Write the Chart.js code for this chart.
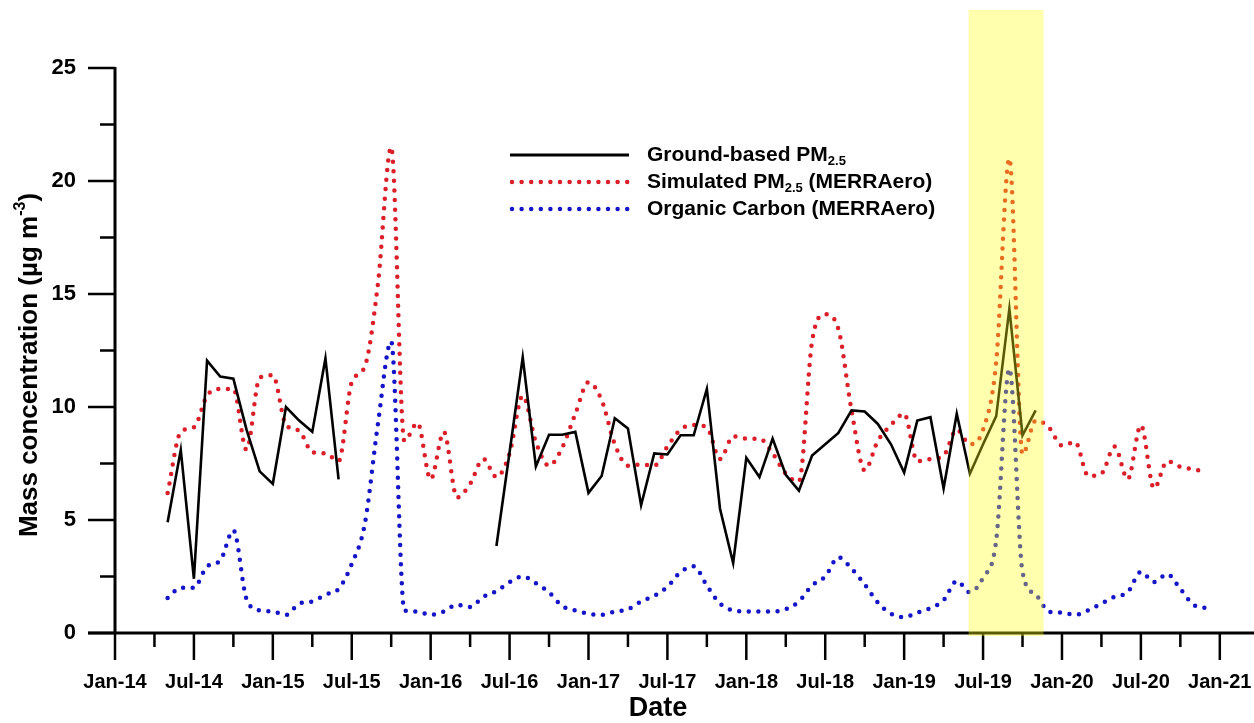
<!DOCTYPE html>
<html>
<head>
<meta charset="utf-8">
<script src="https://cdn.jsdelivr.net/npm/chart.js@4.4.1/dist/chart.umd.min.js"></script>
<style>
  html, body { margin: 0; padding: 0; background: #fff; }
  #chart { display: block; }
</style>
</head>
<body>
<canvas id="chart" width="1254" height="723"></canvas>
<script>
// --------- Datos ---------
// x = meses desde Jan-14; la primera muestra es May-14
const START_MONTH = 4;
const X_TICK_LABELS = ["Jan-14", "Jul-14", "Jan-15", "Jul-15", "Jan-16", "Jul-16", "Jan-17",
    "Jul-17", "Jan-18", "Jul-18", "Jan-19", "Jul-19", "Jan-20", "Jul-20", "Jan-21"];
const Y_TICKS = [0, 5, 10, 15, 20, 25];

// Ground-based PM2.5 (hueco entre Jul-15 y May-16)
const GROUND_PM25 = [
    4.9, 8.1, 2.4, 12.05, 11.35, 11.25, 9.0, 7.15, 6.6, 10.0, 9.4, 8.9, 12.15, 6.8,
    null, null, null, null, null, null, null, null, null, null, null,
    3.85, 8.0, 12.2, 7.37, 8.77, 8.77, 8.9, 6.2, 6.95, 9.5, 9.05, 5.65, 7.95, 7.9,
    8.75, 8.75, 10.8, 5.5, 3.1, 7.75, 6.9, 8.6, 7.0, 6.3, 7.85, 8.35, 8.85, 9.85,
    9.8, 9.25, 8.35, 7.1, 9.4, 9.55, 6.4, 9.7, 7.05, 8.35, 9.6, 14.35, 8.75, 9.85
];

// Simulated PM2.5 (MERRAero)
const SIM_PM25 = [
    6.2, 8.9, 9.1, 10.5, 10.8, 10.8, 8.1, 11.3, 11.4, 9.2, 8.95, 8.0, 7.95, 7.6,
    11.1, 11.8, 15.5, 21.5, 8.5, 9.3, 6.8, 8.9, 6.0, 6.6, 7.7, 6.9, 7.95, 10.5,
    8.45, 7.4, 8.2, 9.7, 11.1, 10.3, 8.35, 7.4, 7.45, 7.4, 8.25, 9.0, 9.2, 9.1,
    7.7, 8.7, 8.6, 8.6, 7.95, 7.05, 6.7, 12.9, 14.1, 13.45, 9.85, 7.2, 8.5, 9.2,
    9.7, 7.6, 7.7, 7.85, 9.0, 8.35, 9.0, 12.0, 21.0, 7.9, 9.4, 9.1, 8.3, 8.45,
    6.95, 7.05, 8.25, 6.8, 9.2, 6.4, 7.6, 7.35, 7.25, 7.1
];

// Organic Carbon (MERRAero)
const ORGANIC_C = [
    1.55, 2.0, 2.0, 2.95, 3.2, 4.55, 1.5, 1.0, 0.95, 0.8, 1.3, 1.4, 1.7, 1.95,
    3.05, 4.85, 9.3, 12.9, 1.0, 0.95, 0.8, 0.95, 1.25, 1.15, 1.6, 1.85, 2.25, 2.5,
    2.2, 1.8, 1.2, 1.0, 0.85, 0.8, 0.95, 1.05, 1.4, 1.65, 2.05, 2.7, 2.95, 2.1,
    1.3, 1.0, 0.95, 0.95, 0.95, 1.05, 1.4, 2.1, 2.5, 3.35, 2.85, 2.15, 1.35, 0.85,
    0.7, 0.9, 1.1, 1.45, 2.3, 1.8, 2.45, 4.1, 11.7, 2.7, 1.7, 0.95, 0.9, 0.8,
    1.0, 1.3, 1.6, 1.8, 2.7, 2.25, 2.6, 1.95, 1.25, 1.1
];

// Banda amarilla (meses)
const HIGHLIGHT = [64.9, 70.6];

const FONT = '"Liberation Sans", Arial, sans-serif';
const RED = "#dc1e28";
const BLUE = "#1414c8";

function toPoints(arr) {
    return arr.map((v, i) => ({ x: START_MONTH + i, y: v }));
}

// texto con sub/superíndice: piezas [texto, tipo]
function drawRich(ctx, parts, x, y, size, align) {
    const widths = parts.map(([t, k]) => {
        ctx.font = `bold ${k ? size * 0.62 : size}px ${FONT}`;
        return ctx.measureText(t).width;
    });
    const total = widths.reduce((a, b) => a + b, 0);
    let cx = align === "center" ? x - total / 2 : x;
    parts.forEach(([t, k], i) => {
        ctx.font = `bold ${k ? size * 0.62 : size}px ${FONT}`;
        const dy = k === "sub" ? size * 0.3 : k === "sup" ? -size * 0.38 : 0;
        ctx.fillText(t, cx, y + dy);
        cx += widths[i];
    });
}

// --------- Plugins ---------
const axesPlugin = {
    id: "axesLines",
    beforeDatasetsDraw(chart) {
        const { ctx, chartArea: a, scales: { x, y } } = chart;
        ctx.save();
        ctx.strokeStyle = "#000";
        ctx.lineWidth = 3;
        ctx.beginPath();
        ctx.moveTo(a.left, a.top - 1);
        ctx.lineTo(a.left, a.bottom);
        ctx.moveTo(a.left - 27, a.bottom);
        ctx.lineTo(a.right, a.bottom);
        ctx.stroke();
        ctx.lineWidth = 2.5;
        ctx.beginPath();
        for (let v = 0; v <= 25; v += 2.5) {
            const py = y.getPixelForValue(v);
            const len = v % 5 === 0 ? 27 : 15;
            ctx.moveTo(a.left - len, py);
            ctx.lineTo(a.left, py);
        }
        for (let m = 0; m <= 84; m += 3) {
            const px = x.getPixelForValue(m);
            const len = m % 6 === 0 ? 27 : 14;
            ctx.moveTo(px, a.bottom);
            ctx.lineTo(px, a.bottom + len);
        }
        ctx.stroke();
        ctx.restore();
    },
};

const bandPlugin = {
    id: "band",
    afterDatasetsDraw(chart) {
        const { ctx, chartArea: a, scales: { x } } = chart;
        const x0 = x.getPixelForValue(HIGHLIGHT[0]);
        const x1 = x.getPixelForValue(HIGHLIGHT[1]);
        ctx.save();
        ctx.fillStyle = "rgba(255, 255, 20, 0.35)";
        ctx.fillRect(x0, 10, x1 - x0, a.bottom + 3 - 10);
        ctx.restore();
    },
};

const labelsPlugin = {
    id: "labels",
    afterDraw(chart) {
        const { ctx } = chart;
        ctx.save();
        ctx.fillStyle = "#000";
        ctx.textBaseline = "middle";

        // leyenda
        ctx.strokeStyle = "#000";
        ctx.lineWidth = 3;
        ctx.beginPath();
        ctx.moveTo(510, 155);
        ctx.lineTo(629, 155);
        ctx.stroke();
        ctx.lineCap = "round";
        ctx.lineWidth = 4.5;
        ctx.setLineDash([0, 9.6]);
        [[RED, 182], [BLUE, 209]].forEach(([c, ly]) => {
            ctx.strokeStyle = c;
            ctx.beginPath();
            ctx.moveTo(512, ly);
            ctx.lineTo(628, ly);
            ctx.stroke();
        });
        ctx.setLineDash([]);
        drawRich(ctx, [["Ground-based PM"], ["2.5", "sub"]], 647, 155, 21, "left");
        drawRich(ctx, [["Simulated PM"], ["2.5", "sub"], [" (MERRAero)"]], 647, 182, 21, "left");
        drawRich(ctx, [["Organic Carbon (MERRAero)"]], 647, 209, 21, "left");

        // títulos de ejes
        drawRich(ctx, [["Date"]], 658, 709, 27, "center");
        ctx.translate(30, 365);
        ctx.rotate(-Math.PI / 2);
        drawRich(ctx, [["Mass concentration (µg m"], ["-3", "sup"], [")"]], 0, 0, 26, "center");
        ctx.restore();
    },
};

// --------- Gráfico ---------
const tickFont = (size) => ({ family: FONT, size, weight: "bold" });

new Chart(document.getElementById("chart").getContext("2d"), {
    type: "line",
    data: {
        datasets: [
            {
                label: "Ground-based PM2.5",
                data: toPoints(GROUND_PM25),
                borderColor: "#000",
                borderWidth: 2.6,
                tension: 0,
                pointRadius: 0,
                spanGaps: false,
            },
            {
                label: "Simulated PM2.5 (MERRAero)",
                data: toPoints(SIM_PM25),
                borderColor: RED,
                borderWidth: 4.5,
                borderDash: [0, 9.6],
                borderCapStyle: "round",
                cubicInterpolationMode: "monotone",
                pointRadius: 0,
            },
            {
                label: "Organic Carbon (MERRAero)",
                data: toPoints(ORGANIC_C),
                borderColor: BLUE,
                borderWidth: 4.5,
                borderDash: [0, 9.6],
                borderCapStyle: "round",
                cubicInterpolationMode: "monotone",
                pointRadius: 0,
            },
        ],
    },
    options: {
        responsive: false,
        animation: false,
        devicePixelRatio: 1,
        layout: { padding: { top: 68, right: 0, left: 0, bottom: 0 } },
        plugins: {
            legend: { display: false },
            tooltip: { enabled: false },
        },
        scales: {
            x: {
                type: "linear",
                min: 0,
                max: 86.6,
                grid: { display: false, drawTicks: false },
                border: { display: false },
                afterFit: (s) => {
                    s.height = 90;
                    s.paddingLeft = 0;
                    s.paddingRight = 0;
                },
                ticks: {
                    stepSize: 3,
                    includeBounds: false,
                    autoSkip: false,
                    maxRotation: 0,
                    padding: 37,
                    color: "#000",
                    font: tickFont(20),
                    callback: (v) => {
                        const m = Math.round(v);
                        return m % 6 === 0 ? X_TICK_LABELS[m / 6] : "";
                    },
                },
            },
            y: {
                min: 0,
                max: 25,
                grid: { display: false, drawTicks: false },
                border: { display: false },
                afterFit: (s) => {
                    s.width = 115;
                    s.paddingTop = 0;
                    s.paddingBottom = 0;
                },
                ticks: {
                    stepSize: 2.5,
                    padding: 39,
                    color: "#000",
                    font: tickFont(22),
                    callback: (v) => (Y_TICKS.includes(v) ? v : ""),
                },
            },
        },
    },
    plugins: [axesPlugin, bandPlugin, labelsPlugin],
});
</script>
</body>
</html>
